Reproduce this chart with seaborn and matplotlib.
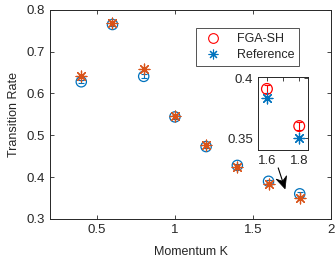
import numpy as np
import pandas as pd
import matplotlib
matplotlib.use("Agg")
import matplotlib.pyplot as plt
import seaborn as sns
from matplotlib.lines import Line2D
from matplotlib.patches import Polygon
from matplotlib.transforms import IdentityTransform

momentum = [0.4, 0.6, 0.8, 1.0, 1.2, 1.4, 1.6, 1.8]
fga_sh = [0.628, 0.765, 0.641, 0.544, 0.473, 0.428, 0.390, 0.360]
fga_err = [0.004, 0.004, 0.005, 0.004, 0.004, 0.004, 0.004, 0.004]
reference = [0.641, 0.768, 0.658, 0.546, 0.477, 0.425, 0.383, 0.350]

inset_x = [1.6, 1.8]
inset_fga = [0.391, 0.360]
inset_err = [0.003, 0.003]
inset_ref = [0.3835, 0.350]

arrow_start = (1.662, 0.422)
arrow_end = (1.706, 0.372)

sns.set_style("white")
plt.rcParams['font.family'] = ['Liberation Sans', 'DejaVu Sans']

BLUE = '#0072BD'
ORANGE = '#D95319'
ast = (8, 2, 0)
FS = 9.5

fig = plt.figure(figsize=(3.36, 2.6), dpi=100)
ax = fig.add_axes([0.149, 0.158, 0.836, 0.804])

df = pd.DataFrame({'K': momentum, 'fga': fga_sh, 'ref': reference})
ax.errorbar(momentum, fga_sh, yerr=fga_err, fmt='none', ecolor=BLUE,
            elinewidth=0.8, capsize=2.5, capthick=0.8)
sns.scatterplot(data=df, x='K', y='fga', ax=ax, marker='o', s=55,
                facecolor='none', edgecolor=BLUE, linewidth=0.9, zorder=3)
sns.scatterplot(data=df, x='K', y='ref', ax=ax, marker=ast, s=60,
                color=ORANGE, edgecolor=ORANGE, linewidth=0.9, zorder=4)

ax.set_xlim(0.2, 2.0)
ax.set_ylim(0.3, 0.8)
ax.set_xticks([0.5, 1, 1.5, 2])
ax.set_xticklabels(['0.5', '1', '1.5', '2'])
ax.set_yticks([0.3, 0.4, 0.5, 0.6, 0.7, 0.8])
ax.set_yticklabels(['0.3', '0.4', '0.5', '0.6', '0.7', '0.8'])
ax.tick_params(direction='in', length=3, width=0.6, labelsize=FS, colors='#262626',
               top=True, right=True, bottom=True, left=True)
for s in ax.spines.values():
    s.set_color('#262626')
    s.set_linewidth(0.7)
ax.set_xlabel('Momentum K', fontsize=9, color='#262626', labelpad=7)
ax.set_ylabel('Transition Rate', fontsize=9, color='#262626', labelpad=5)

# legend
handles = [Line2D([], [], ls='none', marker='o', mfc='none', mec='red', ms=7, mew=0.8),
           Line2D([], [], ls='none', marker=ast, mec=BLUE, color=BLUE, ms=7, mew=0.8)]
leg = ax.legend(handles, ['FGA-SH', 'Reference'], loc='upper right',
                bbox_to_anchor=(0.91, 0.942), fontsize=9, frameon=True,
                fancybox=False, edgecolor='#262626', borderpad=0.4,
                handletextpad=0.9, labelspacing=0.3, handlelength=2.0)
leg.get_frame().set_linewidth(0.7)

# arrow (MATLAB-style notched head), built in display space
p0 = ax.transData.transform(arrow_start)
p1 = ax.transData.transform(arrow_end)
d = p1 - p0
u = d / np.hypot(*d)
n = np.array([-u[1], u[0]])
L, W, notch = 12.0, 5.5, 8.0
base = p1 - u * L
back = p1 - u * notch
ax.add_line(Line2D([p0[0], back[0]], [p0[1], back[1]], color='black', lw=0.8,
                   transform=IdentityTransform(), zorder=5))
head = Polygon([p1, base + n * W, back, base - n * W], closed=True,
               facecolor='black', edgecolor='black', lw=0.5,
               transform=IdentityTransform(), zorder=5)
ax.add_patch(head)

# inset
axi = fig.add_axes([0.768, 0.423, 0.149, 0.281])
axi.errorbar(inset_x, inset_fga, yerr=inset_err, fmt='none', ecolor='red',
             elinewidth=0.8, capsize=2.5, capthick=0.8)
dfi = pd.DataFrame({'K': inset_x, 'fga': inset_fga, 'ref': inset_ref})
sns.scatterplot(data=dfi, x='K', y='fga', ax=axi, marker='o', s=60,
                facecolor='none', edgecolor='red', linewidth=0.9, zorder=3)
sns.scatterplot(data=dfi, x='K', y='ref', ax=axi, marker=ast, s=60,
                color=BLUE, edgecolor=BLUE, linewidth=0.9, zorder=4)
axi.set_xlim(1.545, 1.855)
axi.set_ylim(0.34, 0.401)
axi.set_xticks([1.6, 1.7, 1.8])
axi.set_xticklabels(['1.6', '', '1.8'])
axi.set_yticks([0.35, 0.4])
axi.set_yticklabels(['0.35', '0.4'])
axi.set_xlabel('')
axi.set_ylabel('')
axi.tick_params(direction='in', length=3, width=0.6, labelsize=FS, colors='#262626',
                top=True, right=True)
for s in axi.spines.values():
    s.set_color('#262626')
    s.set_linewidth(0.7)
axi.set_facecolor('white')

fig.savefig('out.png', dpi=100)
